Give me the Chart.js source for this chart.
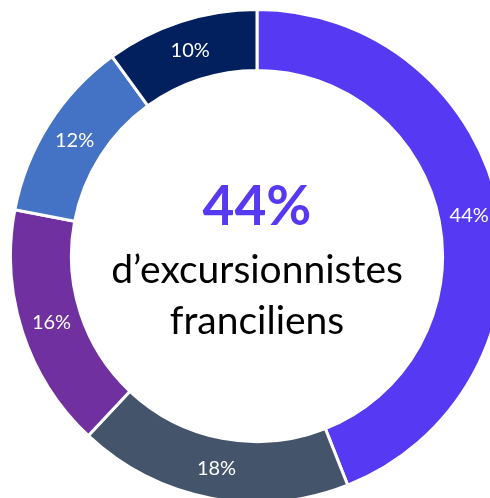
<!DOCTYPE html>
<html>
<head>
<meta charset="utf-8">
<script src="https://cdn.jsdelivr.net/npm/chart.js@4"></script>
<style>
  html, body { margin: 0; padding: 0; background: #fff; overflow: hidden; width: 490px; height: 498px; }
  #wrap { position: absolute; left: 9px; top: 8px; width: 496px; height: 496px; }
</style>
</head>
<body>
<div id="wrap"><canvas id="donut" width="496" height="496"></canvas></div>
<script>
// Données du graphique
const categories = ['Segment 1', 'Segment 2', 'Segment 3', 'Segment 4', 'Segment 5'];
const parts = [44, 18, 16, 12, 10];
const couleurs = ['#5639F2', '#44546A', '#7030A0', '#4472C4', '#03205E'];
const titreValeur = '44%';
const titreLignes = ['d\u2019excursionnistes', 'franciliens'];

const police = 'Lato, "Open Sans", sans-serif';

// Étiquettes des pourcentages sur l'anneau + texte central
const etiquettes = {
  id: 'etiquettes',
  afterDatasetsDraw(chart) {
    const ctx = chart.ctx;
    const meta = chart.getDatasetMeta(0);
    ctx.save();
    ctx.textAlign = 'center';
    ctx.textBaseline = 'middle';
    ctx.fillStyle = '#ffffff';
    ctx.font = '20px ' + police;
    meta.data.forEach((arc, i) => {
      const p = arc.getCenterPoint();
      ctx.fillText(parts[i] + '%', p.x, p.y);
    });

    // Texte au centre
    const cx = meta.data[0].x;
    const cy = meta.data[0].y;
    ctx.textBaseline = 'alphabetic';
    ctx.fillStyle = '#5639F2';
    ctx.font = 'bold 55px ' + police;
    ctx.fillText(titreValeur, cx, cy - 31);
    ctx.fillStyle = '#000000';
    ctx.font = '39px ' + police;
    ctx.fillText(titreLignes[0], cx, cy + 27);
    ctx.fillText(titreLignes[1], cx, cy + 78);
    ctx.restore();
  }
};

new Chart(document.getElementById('donut'), {
  type: 'doughnut',
  data: {
    labels: categories,
    datasets: [{
      data: parts,
      backgroundColor: couleurs,
      borderColor: '#ffffff',
      borderWidth: 3
    }]
  },
  options: {
    responsive: false,
    animation: false,
    cutout: '75.3%',
    layout: { padding: 0 },
    plugins: {
      legend: { display: false },
      tooltip: { enabled: false }
    }
  },
  plugins: [etiquettes]
});
</script>
</body>
</html>
